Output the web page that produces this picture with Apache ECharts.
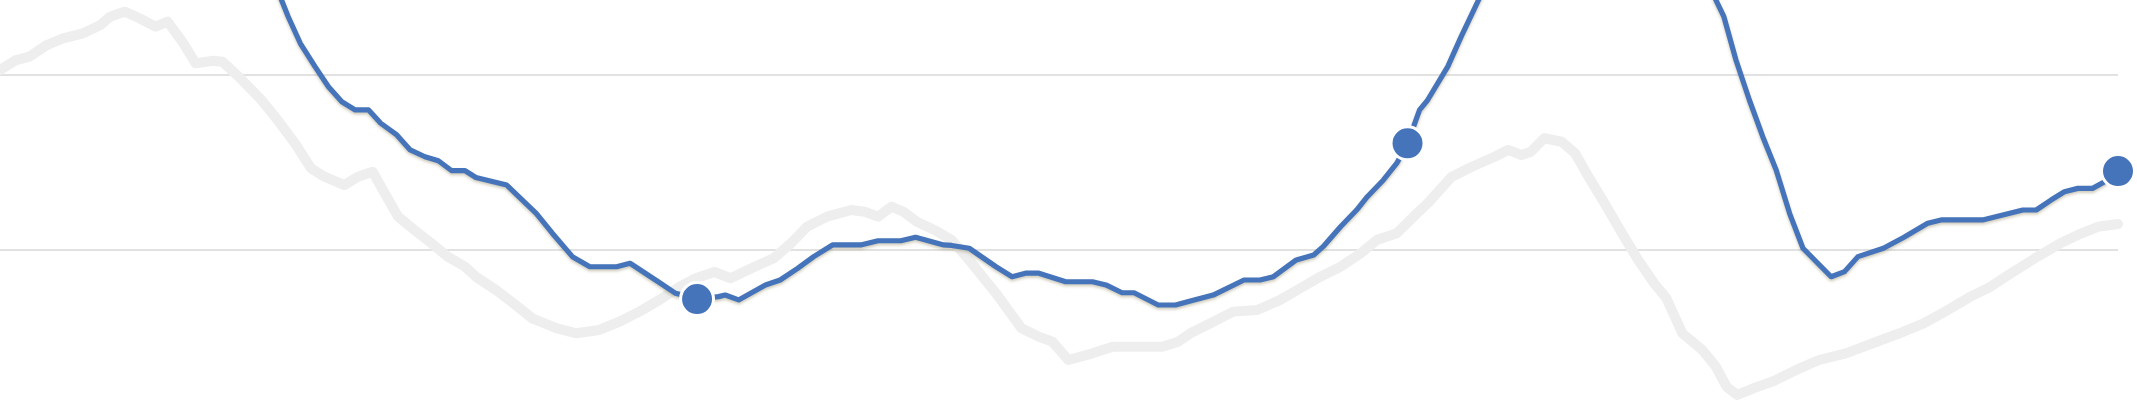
<!DOCTYPE html>
<html>
<head>
<meta charset="utf-8">
<style>
html,body{margin:0;padding:0;background:#ffffff;}
#chart{width:2137px;height:413px;}
</style>
<script src="https://cdn.jsdelivr.net/npm/echarts@6/dist/echarts.min.js"></script>
</head>
<body>
<div id="chart"></div>
<script>
// Period index (x) and value (y)
var grayPeriods = [0.0,1.2,2.2,3.5,4.7,6.2,7.5,8.2,9.3,10.4,11.6,12.5,13.6,14.6,15.9,16.6,17.8,19.5,20.7,22.0,23.2,24.2,25.7,26.7,27.8,28.7,29.7,30.9,32.2,33.4,34.7,35.5,37.0,38.3,39.7,41.5,43.0,44.7,46.2,47.7,49.2,50.7,51.9,53.3,54.5,56.3,57.7,59.0,60.2,61.7,63.5,64.5,65.5,66.5,67.4,68.4,69.7,71.0,72.5,74.3,76.2,77.5,78.5,79.7,81.5,83.0,85.0,86.7,87.9,88.8,90.3,92.0,93.8,95.5,97.0,98.5,100.0,101.5,102.7,104.2,105.7,106.5,108.3,109.8,111.5,112.5,113.5,114.2,115.2,116.5,117.5,118.5,119.7,121.0,122.2,123.4,124.3,125.5,127.0,128.0,128.8,129.6,130.8,132.2,134.0,135.7,137.7,139.7,142.0,143.5,145.3,147.0,148.5,150.2,152.0,153.7,155.0,156.5,158.0];
var grayValues = [2.027,2.084,2.103,2.170,2.208,2.237,2.285,2.332,2.361,2.323,2.275,2.304,2.189,2.065,2.080,2.074,1.989,1.855,1.741,1.607,1.464,1.416,1.368,1.416,1.444,1.321,1.187,1.111,1.034,0.958,0.900,0.843,0.767,0.691,0.605,0.548,0.519,0.538,0.585,0.643,0.710,0.786,0.834,0.870,0.834,0.900,0.948,1.034,1.129,1.187,1.225,1.215,1.187,1.244,1.215,1.158,1.111,1.053,0.920,0.748,0.548,0.499,0.471,0.366,0.404,0.442,0.442,0.442,0.471,0.519,0.576,0.643,0.652,0.710,0.777,0.843,0.900,0.977,1.053,1.092,1.206,1.263,1.416,1.473,1.530,1.569,1.540,1.559,1.636,1.616,1.550,1.416,1.263,1.092,0.939,0.805,0.721,0.519,0.423,0.328,0.213,0.166,0.204,0.242,0.309,0.366,0.404,0.462,0.528,0.576,0.652,0.729,0.786,0.872,0.958,1.034,1.082,1.129,1.145];

var bluePeriods = [0.0,6.0,12.0,16.0,18.0,19.0,20.0,21.0,21.5,22.4,23.5,24.5,25.5,26.5,27.5,28.4,29.6,30.6,31.7,32.7,33.7,34.7,35.5,37.8,40.0,41.2,42.7,44.0,46.0,47.0,49.1,50.4,52.0,53.6,54.1,55.1,56.0,57.1,58.2,59.5,60.7,62.1,64.2,65.5,67.2,68.3,70.4,71.0,72.3,74.3,75.5,76.5,77.5,79.5,81.5,82.5,83.7,84.6,86.4,87.7,88.8,90.5,92.8,94.0,95.0,96.7,98.0,98.7,100.0,101.2,102.0,103.2,104.2,105.0,105.9,106.5,108.0,109.0,110.3,111.2,112.6,114.9,117.9,120.8,123.8,126.1,127.2,128.0,128.6,129.5,130.5,131.5,132.5,133.5,134.5,136.6,137.6,138.6,140.5,142.0,143.8,144.8,147.9,150.9,151.9,153.0,154.0,155.0,156.1,157.0,158.0];
var blueValues = [3.60,3.45,3.30,3.15,3.05,2.85,2.62,2.428,2.332,2.180,2.046,1.931,1.845,1.798,1.798,1.722,1.655,1.569,1.530,1.507,1.450,1.450,1.411,1.368,1.206,1.092,0.958,0.900,0.900,0.920,0.814,0.748,0.715,0.729,0.738,0.710,0.748,0.796,0.824,0.891,0.958,1.025,1.025,1.049,1.049,1.069,1.025,1.022,1.006,0.900,0.843,0.863,0.863,0.814,0.814,0.796,0.751,0.751,0.681,0.681,0.704,0.738,0.824,0.824,0.843,0.939,0.967,1.015,1.129,1.225,1.301,1.397,1.493,1.607,1.798,1.855,2.046,2.218,2.428,2.59,2.80,3.06,3.15,3.15,3.10,2.94,2.66,2.428,2.332,2.084,1.855,1.645,1.454,1.206,1.006,0.843,0.872,0.958,1.006,1.068,1.149,1.168,1.168,1.225,1.225,1.282,1.330,1.349,1.349,1.387,1.448];

var markerPeriods = [52, 105, 158];
var markerValues = [0.715, 1.607, 1.448];

// Reference gridline values
var gridValues = [1, 2];

function zip(a, b) { return a.map(function (v, i) { return [v, b[i]]; }); }

var chart = echarts.init(document.getElementById('chart'), null, { renderer: 'canvas' });
chart.setOption({
  animation: false,
  backgroundColor: '#ffffff',
  grid: { left: 0, right: 19, top: 0, bottom: 0, containLabel: false },
  xAxis: {
    type: 'value', min: 0, max: 158,
    axisLine: { show: false }, axisTick: { show: false },
    axisLabel: { show: false }, splitLine: { show: false }
  },
  yAxis: {
    type: 'value', min: 0.0624, max: 2.4278,
    axisLine: { show: false }, axisTick: { show: false },
    axisLabel: { show: false }, splitLine: { show: false }
  },
  series: [
    {
      name: 'gray', type: 'line', data: zip(grayPeriods, grayValues),
      showSymbol: false, symbol: 'none', z: 1,
      lineStyle: { color: '#eeeeee', width: 10, join: 'round', cap: 'round' },
      markLine: {
        silent: true, symbol: 'none', z: 0,
        label: { show: false },
        lineStyle: { color: '#e2e2e2', width: 2, type: 'solid' },
        data: gridValues.map(function (v) { return { yAxis: v }; })
      }
    },
    {
      name: 'blue', type: 'line', data: zip(bluePeriods, blueValues),
      showSymbol: false, symbol: 'none', z: 3,
      lineStyle: {
        color: '#4574bb', width: 5.2, join: 'round',
        shadowColor: 'rgba(120,110,60,0.35)', shadowBlur: 3, shadowOffsetY: 2
      }
    },
    {
      name: 'markers', type: 'scatter', data: zip(markerPeriods, markerValues),
      symbol: 'circle', symbolSize: 33, z: 4,
      itemStyle: { color: '#4574bb', opacity: 1, borderColor: '#ffffff', borderWidth: 3 }
    }
  ]
});
</script>
</body>
</html>
